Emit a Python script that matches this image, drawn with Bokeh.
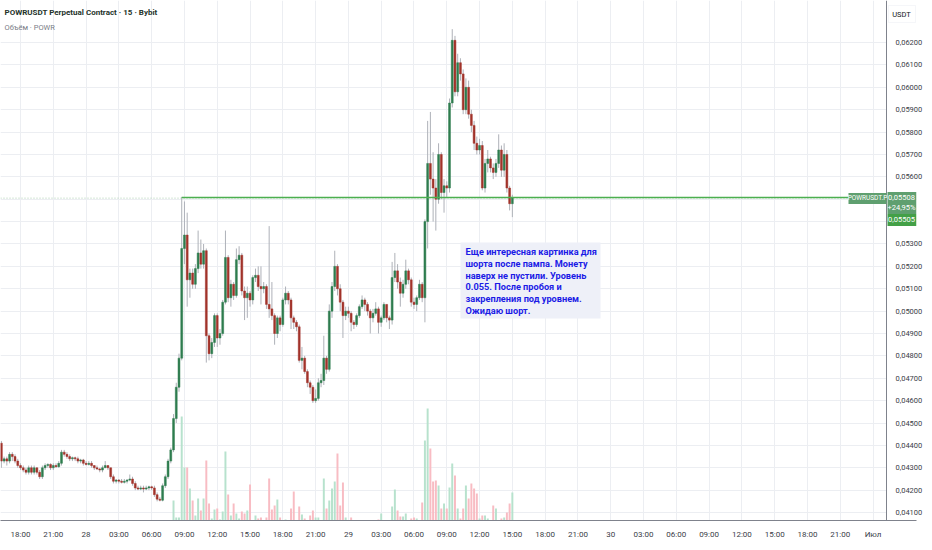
from bokeh.plotting import figure
from bokeh.models import ColumnDataSource, Range1d, FixedTicker, Label, BoxAnnotation, Span
from bokeh.embed import file_html
from bokeh.resources import INLINE
from bokeh.core.properties import value

# ---------------- data ----------------
symbol_title = "POWRUSDT Perpetual Contract · 15 · Bybit"
volume_title = "Объём · POWR"
start_hour = 16.25      # first bar: 27 Jun 16:15 (hours since 27 Jun 00:00)
bar_hours = 0.25        # 15-minute bars
first_open = 0.0441

closes = [
    0.0433, 0.0434, 0.0433, 0.0436, 0.0435, 0.0433, 0.0431, 0.0430, 0.0429, 0.0428,
    0.0430, 0.0428, 0.0430, 0.0428, 0.0426, 0.0430, 0.0431, 0.04315, 0.0430, 0.0431,
    0.04305, 0.0432, 0.0437, 0.0436, 0.0435, 0.0434, 0.04345, 0.0434, 0.0433, 0.04335,
    0.0432, 0.04315, 0.0432, 0.0431, 0.0430, 0.04295, 0.0429, 0.0430, 0.0431, 0.0430,
    0.0426, 0.0424, 0.04245, 0.0424, 0.04235, 0.0424, 0.04245, 0.0425, 0.0423, 0.0421,
    0.04205, 0.0421, 0.04205, 0.0421, 0.04215, 0.0421, 0.0418, 0.0416, 0.04155, 0.0422,
    0.0426, 0.0433, 0.0438, 0.0452, 0.0466, 0.0479, 0.0528, 0.0534, 0.0514, 0.0517,
    0.0512, 0.0519, 0.0526, 0.0521, 0.0527, 0.0489, 0.0481, 0.0486, 0.0498, 0.0488,
    0.0490, 0.0504, 0.0524, 0.0506, 0.0512, 0.0507, 0.0523, 0.0525, 0.0509, 0.0506,
    0.0508, 0.0505, 0.0515, 0.0516, 0.0511, 0.0510, 0.0511, 0.0503, 0.0501, 0.0498,
    0.0490, 0.0497, 0.0494, 0.0505, 0.0508, 0.0505, 0.0497, 0.0495, 0.0493, 0.0478,
    0.0479, 0.0473, 0.0468, 0.0466, 0.0460, 0.0461, 0.0468, 0.0469, 0.0479, 0.0474,
    0.0500, 0.0511, 0.0520, 0.0510, 0.0504, 0.0498, 0.0500, 0.0499, 0.0495, 0.0494,
    0.0498, 0.0502, 0.0505, 0.0503, 0.0500, 0.0497, 0.0499, 0.0501, 0.0495, 0.0497,
    0.0503, 0.0497, 0.0496, 0.0515, 0.0518, 0.0513, 0.0508, 0.0512, 0.0518, 0.0514,
    0.0504, 0.0503, 0.0506, 0.0512, 0.0506, 0.0540, 0.0566, 0.0559, 0.0555, 0.0550,
    0.0570, 0.0553, 0.0556, 0.0555, 0.0593, 0.0621, 0.0598, 0.0611, 0.0606, 0.0590,
    0.0600, 0.0588, 0.0583, 0.0575, 0.0572, 0.0574, 0.0555, 0.0566, 0.0568, 0.0564,
    0.0562, 0.0566, 0.0572, 0.0563, 0.0570, 0.0555, 0.0548, 0.05505,
]
highs = [
    0.0442, 0.0435, 0.0435, 0.0437, 0.0437, 0.0436, 0.0434, 0.0432, 0.0431, 0.0430,
    0.0431, 0.0431, 0.0431, 0.0430, 0.0429, 0.0431, 0.0432, 0.0432, 0.0432, 0.0432,
    0.0432, 0.0433, 0.0438, 0.0438, 0.0437, 0.0436, 0.0435, 0.0435, 0.0435, 0.0434,
    0.0434, 0.0433, 0.0433, 0.0433, 0.0431, 0.0431, 0.0430, 0.0431, 0.0433, 0.0431,
    0.0430, 0.0427, 0.0425, 0.0425, 0.0425, 0.0425, 0.0425, 0.0427, 0.0426, 0.0424,
    0.0422, 0.0422, 0.0422, 0.0422, 0.0422, 0.0422, 0.0422, 0.0419, 0.0417, 0.0423,
    0.0427, 0.0434, 0.0439, 0.0454, 0.0468, 0.0481, 0.0551, 0.0549, 0.0544, 0.0519,
    0.0519, 0.0521, 0.0536, 0.0532, 0.0530, 0.0528, 0.0490, 0.0488, 0.0499, 0.0499,
    0.0492, 0.0505, 0.0536, 0.0525, 0.0514, 0.0513, 0.0528, 0.0529, 0.0526, 0.0511,
    0.0511, 0.0509, 0.0516, 0.0519, 0.0520, 0.0520, 0.0513, 0.0512, 0.0538, 0.0513,
    0.0499, 0.0498, 0.0498, 0.0506, 0.0511, 0.0509, 0.0506, 0.0498, 0.0496, 0.0494,
    0.0484, 0.0480, 0.0474, 0.0469, 0.0467, 0.0465, 0.0470, 0.0472, 0.0489, 0.0480,
    0.0503, 0.0513, 0.0527, 0.0521, 0.0512, 0.0505, 0.0502, 0.0502, 0.0500, 0.0496,
    0.0499, 0.0503, 0.0507, 0.0506, 0.0504, 0.0501, 0.0501, 0.0504, 0.0502, 0.0498,
    0.0504, 0.0503, 0.0498, 0.0522, 0.0526, 0.0521, 0.0515, 0.0514, 0.0523, 0.0519,
    0.0515, 0.0506, 0.0507, 0.0514, 0.0513, 0.0541, 0.0585, 0.0589, 0.0571, 0.0559,
    0.0575, 0.0571, 0.0559, 0.0558, 0.0595, 0.0626, 0.0623, 0.0615, 0.0613, 0.0608,
    0.0604, 0.0603, 0.0590, 0.0585, 0.0578, 0.0577, 0.0576, 0.0568, 0.0572, 0.0569,
    0.0566, 0.0568, 0.0579, 0.0574, 0.0575, 0.0572, 0.0556, 0.0552,
]
lows = [
    0.0430, 0.0432, 0.0431, 0.0432, 0.0433, 0.0432, 0.0430, 0.0429, 0.0428, 0.0427,
    0.0427, 0.0427, 0.0427, 0.0427, 0.0425, 0.0425, 0.0429, 0.0430, 0.0429, 0.0429,
    0.0430, 0.0430, 0.0431, 0.0435, 0.0434, 0.0433, 0.0433, 0.0433, 0.0432, 0.0432,
    0.0431, 0.0431, 0.0431, 0.0430, 0.0429, 0.0429, 0.0428, 0.0428, 0.0430, 0.0429,
    0.0425, 0.0423, 0.0423, 0.0423, 0.0423, 0.0423, 0.0423, 0.0424, 0.0422, 0.0420,
    0.0420, 0.0420, 0.0419, 0.0420, 0.0420, 0.0420, 0.0417, 0.0415, 0.0415, 0.0415,
    0.0421, 0.0425, 0.0432, 0.0437, 0.0450, 0.0464, 0.0478, 0.0521, 0.0502, 0.0506,
    0.0510, 0.0510, 0.0517, 0.0519, 0.0519, 0.0477, 0.0478, 0.0479, 0.0484, 0.0484,
    0.0485, 0.0489, 0.0503, 0.0504, 0.0502, 0.0505, 0.0506, 0.0521, 0.0507, 0.0496,
    0.0497, 0.0502, 0.0503, 0.0513, 0.0509, 0.0503, 0.0508, 0.0501, 0.0497, 0.0496,
    0.0485, 0.0488, 0.0491, 0.0493, 0.0503, 0.0503, 0.0492, 0.0492, 0.0491, 0.0477,
    0.0474, 0.0472, 0.0466, 0.0463, 0.0459, 0.0459, 0.0460, 0.0466, 0.0467, 0.0472,
    0.0473, 0.0497, 0.0509, 0.0507, 0.0500, 0.0488, 0.0496, 0.0497, 0.0491, 0.0492,
    0.0493, 0.0497, 0.0501, 0.0500, 0.0498, 0.0490, 0.0495, 0.0498, 0.0490, 0.0493,
    0.0496, 0.0495, 0.0492, 0.0494, 0.0513, 0.0510, 0.0502, 0.0506, 0.0510, 0.0512,
    0.0502, 0.0501, 0.0500, 0.0505, 0.0504, 0.0495, 0.0528, 0.0552, 0.0540, 0.0536,
    0.0548, 0.0550, 0.0544, 0.0551, 0.0553, 0.0591, 0.0596, 0.0596, 0.0603, 0.0588,
    0.0588, 0.0586, 0.0580, 0.0572, 0.0570, 0.0570, 0.0554, 0.0553, 0.0562, 0.0562,
    0.0559, 0.0560, 0.0564, 0.0560, 0.0560, 0.0553, 0.0545, 0.0542,
]
volumes = [
    8, 1.5, 1, 1.5, 2, 1.5, 1, 1.5, 1, 2,
    1.5, 1, 1.5, 1, 2, 1.5, 1, 1, 1.5, 1,
    1, 1.5, 2, 1.5, 1, 1.5, 1, 1, 1.5, 1,
    1, 1.5, 1, 2, 1, 1.5, 1, 3, 1.5, 1,
    2, 1.5, 1, 1, 1.5, 1, 1, 1.5, 1, 2,
    1, 1.5, 1, 1, 1.5, 1, 2, 3, 2, 2,
    2.5, 4, 4, 28, 11, 11, 112, 61, 61, 40,
    28, 13, 30, 18, 30, 68, 25, 10, 19, 20,
    9, 17, 77, 34, 13, 25, 15, 10, 17, 15,
    18, 44, 8, 13, 10, 11, 6, 11, 50, 19,
    23, 29, 11, 6, 9, 8, 20, 37, 8, 22,
    14, 10, 8, 13, 18, 11, 11, 5, 50, 20,
    28, 40, 47, 75, 23, 46, 11, 6, 11, 8,
    6, 6, 6, 6, 5, 5, 4, 4, 9, 15,
    6, 4, 5, 22, 39, 18, 12, 12, 15, 6,
    10, 11, 10, 7, 26, 88, 120, 80, 47, 48,
    43, 20, 25, 20, 41, 65, 53, 20, 10, 20,
    43, 30, 45, 40, 35, 10, 13, 13, 10, 5,
    23, 20, 8, 10, 11, 16, 25, 36,
]

x_tick_hours = [18, 21, 24, 27, 30, 33, 36, 39, 42, 45, 48, 51, 54, 57,
                60, 63, 66, 69, 72, 75, 78, 81, 84, 87, 90, 93, 96]
x_tick_labels = ["18:00", "21:00", "28", "03:00", "06:00", "09:00", "12:00",
                 "15:00", "18:00", "21:00", "29", "03:00", "06:00", "09:00",
                 "12:00", "15:00", "18:00", "21:00", "30", "03:00", "06:00",
                 "09:00", "12:00", "15:00", "18:00", "21:00", "Июл"]
price_ticks = [0.041, 0.042, 0.043, 0.044, 0.045, 0.046, 0.047, 0.048, 0.049,
               0.050, 0.051, 0.052, 0.053, 0.054, 0.055, 0.056, 0.057, 0.058,
               0.059, 0.060, 0.061, 0.062]
price_tick_labels = ["0,04100", "0,04200", "0,04300", "0,04400", "0,04500",
                     "0,04600", "0,04700", "0,04800", "0,04900", "0,05000",
                     "0,05100", "0,05200", "0,05300", "", "", "0,05600",
                     "0,05700", "0,05800", "0,05900", "0,06000", "0,06100",
                     "0,06200"]

level_price = 0.05508
level_start_bar = 66
last_price_text = "0,05508"
change_text = "+24,95%"
close_price_text = "0,05505"
ticker_text = "POWRUSDT.P"
currency_text = "USDT"
note_lines = [
    "Еще интересная картинка для",
    "шорта после пампа. Монету",
    "наверх не пустили. Уровень",
    "0.055. После пробоя и",
    "закрепления под уровнем.",
    "Ожидаю шорт.",
]

# ---------------- derived ----------------
n = len(closes)
opens = [first_open] + closes[:-1]
xs = [start_hour + bar_hours * i for i in range(n)]
up = [c >= o for o, c in zip(opens, closes)]
src = ColumnDataSource(dict(
    x=xs, open=opens, close=closes, high=highs, low=lows, vol=volumes,
    top=[max(o, c) for o, c in zip(opens, closes)],
    bottom=[min(o, c) for o, c in zip(opens, closes)],
    color=["#2e7d4f" if u else "#a2332a" for u in up],
    vcolor=["#b7e2cd" if u else "#f8bcc3" for u in up],
))

# ---------------- layout constants (pixel offsets from the frame's top-left) ----------------
FONT = "Roboto"
FW, FH = 916, 520                 # frame; right 30 px form the price-scale strip
HPX = 1 / 10.93                   # hours per pixel
PPX = 0.001 / 22.38               # price per pixel
X0 = 16.17
Y1 = 0.06388
X1 = X0 + FW * HPX
Y0 = Y1 - FH * PPX
CHART_R = X0 + 886 * HPX          # end of the chart area (price-scale line)
STRIP_C = CHART_R + 15 * HPX
def hx(px):
    return X0 + px * HPX
def py(px):
    return Y1 - px * PPX

p = figure(frame_width=FW, frame_height=FH,
           x_range=Range1d(X0, X1), y_range=Range1d(Y0, Y1),
           y_axis_location="right", output_backend="svg", toolbar_location=None,
           min_border_left=0, min_border_top=0, min_border_right=0,
           min_border_bottom=14, outline_line_color=None,
           background_fill_color="white", border_fill_color="white")
# volume scale: value 0 sits 8 px below the frame bottom (as in the source)
p.extra_y_ranges = {"vol": Range1d(8, FH + 8)}

for ax in (p.xaxis, p.yaxis):
    ax.major_tick_line_color = None
    ax.minor_tick_line_color = None
    ax.major_label_text_font_size = "7.5px"
    ax.major_label_text_color = "#3a3d47"
    ax.major_label_text_font = FONT
p.xaxis.major_label_text_font_size = "8px"
p.xaxis.axis_line_color = "#7f828c"
p.xaxis.ticker = FixedTicker(ticks=x_tick_hours)
p.xaxis.major_label_overrides = dict(zip(x_tick_hours, x_tick_labels))
p.xaxis.major_label_standoff = 3
p.yaxis.axis_line_color = None
p.yaxis.ticker = FixedTicker(ticks=price_ticks)
p.yaxis.major_label_overrides = dict(zip(price_ticks, price_tick_labels))
p.yaxis.major_label_standoff = -27
p.grid.grid_line_color = "#eceef2"
p.grid.grid_line_width = 1

# white price-scale strip (hides the grid), and its border line
p.add_layout(BoxAnnotation(left=CHART_R, fill_color="white", fill_alpha=1,
                           line_color=None, level="underlay"))
p.add_layout(Span(location=CHART_R, dimension="height", line_color="#7f828c",
                  line_width=1))

# volume
p.vbar(x="x", top="vol", bottom=0, width=bar_hours * 0.72, y_range_name="vol",
       fill_color="vcolor", line_color=None, source=src)

# last price dotted line (chart area only)
p.segment(x0=[X0], y0=[closes[-1]], x1=[CHART_R], y1=[closes[-1]],
          line_color="#a9cfb2", line_dash="1 2", line_width=1)

# candles
p.segment(x0="x", y0="high", x1="x", y1="low", line_color="#aeb1b8",
          line_width=1, source=src)
p.vbar(x="x", top="top", bottom="bottom", width=bar_hours * 0.7,
       fill_color="color", line_color="color", line_width=0.5, source=src)

# horizontal level
p.segment(x0=[xs[level_start_bar]], y0=[level_price], x1=[CHART_R], y1=[level_price],
          line_color="#4caf50", line_width=1.5)

# note box and text
p.add_layout(BoxAnnotation(left=hx(460), right=hx(600), top=py(242), bottom=py(318),
                           fill_color="#eef0f8", fill_alpha=1, line_color=None,
                           level="underlay"))
note_step = 11.8 * PPX
p.text(x=[hx(465)] * len(note_lines),
       y=[py(251) - i * note_step for i in range(len(note_lines))],
       text=note_lines, text_font=value(FONT), text_font_size="9.2px",
       text_font_style="bold", text_color="#1b1be6", text_baseline="middle",
       text_align="left")

# titles
p.add_layout(Label(x=4, y=FH - 12, x_units="screen", y_units="screen",
                   text=symbol_title, text_font=FONT, text_font_size="8px",
                   text_font_style="bold", text_color="#24332a",
                   text_baseline="middle"))
p.add_layout(Label(x=4, y=FH - 27, x_units="screen", y_units="screen",
                   text=volume_title, text_font=FONT, text_font_size="7.5px",
                   text_color="#7a7d86", text_baseline="middle"))

# price-scale boxes
p.add_layout(BoxAnnotation(left=CHART_R - 38 * HPX, right=CHART_R,
                           top=level_price + 4.5 * PPX, bottom=level_price - 6.5 * PPX,
                           fill_color="#5f9f6f", fill_alpha=1, line_color=None))
p.add_layout(Label(x=CHART_R - 19 * HPX, y=level_price - 1 * PPX,
                   text=ticker_text, text_font=FONT, text_font_size="6.5px",
                   text_color="white", text_align="center", text_baseline="middle"))
p.add_layout(BoxAnnotation(left=CHART_R + 1 * HPX, right=X1,
                           top=level_price + 5.5 * PPX, bottom=level_price - 16.5 * PPX,
                           fill_color="#5f9f6f", fill_alpha=1, line_color=None))
p.add_layout(BoxAnnotation(left=CHART_R + 1 * HPX, right=X1,
                           top=level_price - 16.5 * PPX, bottom=level_price - 28.5 * PPX,
                           fill_color="#43a047", fill_alpha=1, line_color=None))
for txt, dy in ((last_price_text, 0), (change_text, -10.5), (close_price_text, -22.5)):
    p.add_layout(Label(x=STRIP_C, y=level_price + dy * PPX,
                       text=txt, text_font=FONT, text_font_size="7.5px",
                       text_color="white", text_align="center", text_baseline="middle"))
p.add_layout(BoxAnnotation(left=CHART_R + 2 * HPX, right=X1 - 1 * HPX,
                           top=py(5), bottom=py(22),
                           fill_color="white", fill_alpha=1, line_color="#dfe2ea"))
p.add_layout(Label(x=STRIP_C, y=py(13.5), text=currency_text, text_font=FONT,
                   text_font_size="7.5px", text_color="#131722",
                   text_align="center", text_baseline="middle"))

open("out.html", "w").write(file_html(p, INLINE))
